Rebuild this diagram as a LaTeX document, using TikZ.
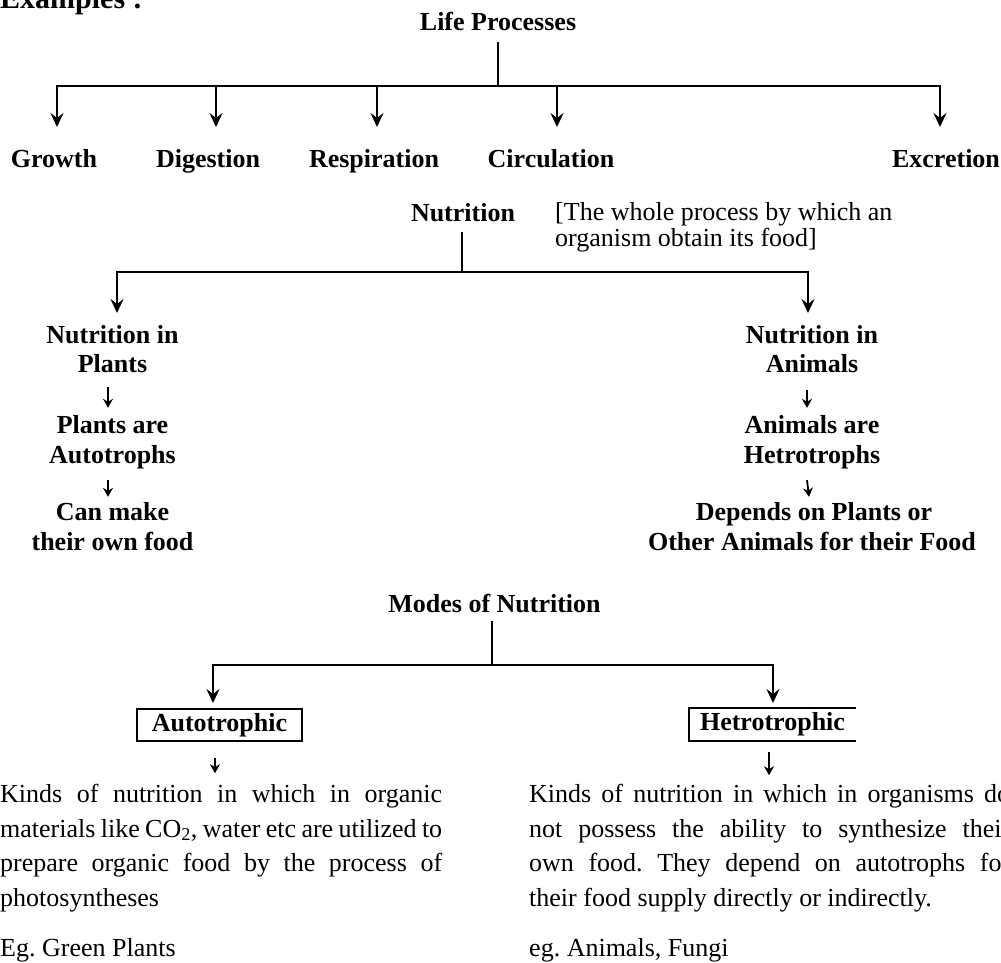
\documentclass[tikz,border=0pt]{standalone}
\usepackage{fontspec}
\setmainfont{Liberation Serif}
\usetikzlibrary{arrows.meta,calc}
\frenchspacing
\begin{document}
\begin{tikzpicture}[x=1pt,y=-1pt,
  lab/.style={font=\fontsize{26}{30}\selectfont\bfseries, inner sep=0pt, text height=18pt, text depth=6pt, anchor=base},
  rlab/.style={font=\fontsize{26}{30}\selectfont, inner sep=0pt, anchor=base west},
  branch/.style={line width=2.6pt, line join=miter},
  arr/.style={line width=2.6pt, line join=miter, -{Stealth[length=14pt,width=13pt,inset=5pt]}},
  sarr/.style={line width=1.8pt, -{Stealth[length=9pt,width=10pt,inset=3pt]}},
  boxline/.style={line width=2.3pt},
  para/.style={font=\fontsize{26}{34.5}\selectfont\frenchspacing, inner sep=0pt, align=left},
  ptext/.style={font=\fontsize{26}{34.5}\selectfont\frenchspacing, inner sep=0pt, anchor=base west}
]
\useasboundingbox (0,0) rectangle (1001,962);
\clip (0,0) rectangle (1001,962);

% heading
\node[font=\fontsize{30}{34}\selectfont\bfseries, anchor=base west, inner sep=0pt] (ex) at (0,8) {Examples :};

% life processes tree
\node[lab] (life) at (498,30) {Life Processes};
\coordinate (t0) at (498,86);
\coordinate (h2) at (216,86);
\coordinate (h3) at (377,86);
\coordinate (h4) at (557,86);
\coordinate (e1) at (57,127);
\coordinate (e2) at (216,127);
\coordinate (e3) at (377,127);
\coordinate (e4) at (557,127);
\coordinate (e5) at (940,127);
\draw[branch] ($(t0 |- life.south)+(0,6)$) -- (t0);
\draw[arr] (t0) -| (e1);
\draw[arr] (t0) -| (e5);
\draw[arr] (h2) -- (e2);
\draw[arr] (h3) -- (e3);
\draw[arr] (h4) -- (e4);

\node[lab] (growth) at (54,167) {Growth};
\node[lab] (digestion) at (208,167) {Digestion};
\node[lab] (respiration) at (374,167) {Respiration};
\node[lab] (circulation) at (551,167) {Circulation};
\node[lab] (excretion) at (946,167) {Excretion};

% nutrition
\node[lab] (nutrition) at (463,221) {Nutrition};
\node[rlab] (br1) at (555,220) {[The whole process by which an};
\node[rlab] (br2) at (555,246) {organism obtain its food]};
\coordinate (n0) at (462,272);
\coordinate (ne1) at (117,313);
\coordinate (ne2) at (808,313);
\draw[branch] ($(n0 |- nutrition.south)+(0,5)$) -- (n0);
\draw[arr] (n0) -| (ne1);
\draw[arr] (n0) -| (ne2);

% plants column
\node[lab] (lp1) at (112.5,343) {Nutrition in};
\node[lab] (lp2) at (112.5,372) {Plants};
\node[lab] (lp3) at (112.5,433) {Plants are};
\node[lab] (lp4) at (112.5,463) {Autotrophs};
\node[lab] (lp5) at (112.5,520) {Can make};
\node[lab] (lp6) at (112.5,550) {their own food};
\draw[sarr] ([xshift=-4.5pt,yshift=-9pt]lp2.south) -- ([xshift=-4.5pt,yshift=7pt]lp3.north);
\draw[sarr] ([xshift=-4.5pt,yshift=-11pt]lp4.south) -- ([xshift=-4.5pt,yshift=5pt]lp5.north);

% animals column
\node[lab] (rp1) at (812,343) {Nutrition in};
\node[lab] (rp2) at (812,372) {Animals};
\node[lab] (rp3) at (812,433) {Animals are};
\node[lab] (rp4) at (812,463) {Hetrotrophs};
\node[lab] (rp5) at (814,520) {Depends on Plants or};
\node[lab] (rp6) at (812,550) {Other Animals for their Food};
\draw[sarr] ([xshift=-5pt,yshift=-12pt]rp2.south) -- ([xshift=-5pt,yshift=7pt]rp3.north);
\draw[sarr] ([xshift=-5pt,yshift=-11pt]rp4.south) -- ([xshift=-5pt,yshift=5pt]rp5.north);

% modes of nutrition
\node[lab] (modes) at (494.5,612) {Modes of Nutrition};
\coordinate (m0) at (492,665);
\coordinate (me1) at (213,703);
\coordinate (me2) at (773,703);
\draw[branch] ($(m0 |- modes.south)+(0,3)$) -- (m0);
\draw[arr] (m0) -| (me1);
\draw[arr] (m0) -| (me2);

\node[lab, anchor=center, draw, boxline, minimum width=165pt, minimum height=32pt] (autobox) at (219.5,725) {Autotrophic};
\node[lab, anchor=center, minimum width=167pt, minimum height=33pt] (hetbox) at (772.5,724.5) {Hetrotrophic};
\draw[boxline] (hetbox.north east) -- (hetbox.north west) -- (hetbox.south west) -- (hetbox.south east);

% paragraphs
\node[para, anchor=north west] (autopara) at (0,784.2)
  {\hbox to 442pt{Kinds of nutrition in which in organic}\\
   \hbox to 442pt{materials like CO\textsubscript{2}, water etc are utilized to}\\
   \hbox to 442pt{prepare organic food by the process of}\\
   \hbox{photosyntheses}};
\node[para, anchor=north west] (hetpara) at (529,784.2)
  {\hbox to 481pt{Kinds of nutrition in which in organisms do}\\
   \hbox to 481pt{not possess the ability to synthesize their}\\
   \hbox to 481pt{own food. They depend on autotrophs for}\\
   \hbox{their food supply directly or indirectly.}};
\node[ptext] (autoeg) at (0,956) {Eg. Green Plants};
\node[ptext] (heteg) at (529,956) {eg. Animals, Fungi};

\draw[sarr] ($(autobox.south)+(-4.5,16)$) -- ($(autobox.south |- autopara.north)+(-4.5,-11)$);
\draw[sarr] ($(hetbox.south)+(-3.5,11)$) -- ($(hetbox.south |- hetpara.north)+(-3.5,-9)$);
\end{tikzpicture}
\end{document}
